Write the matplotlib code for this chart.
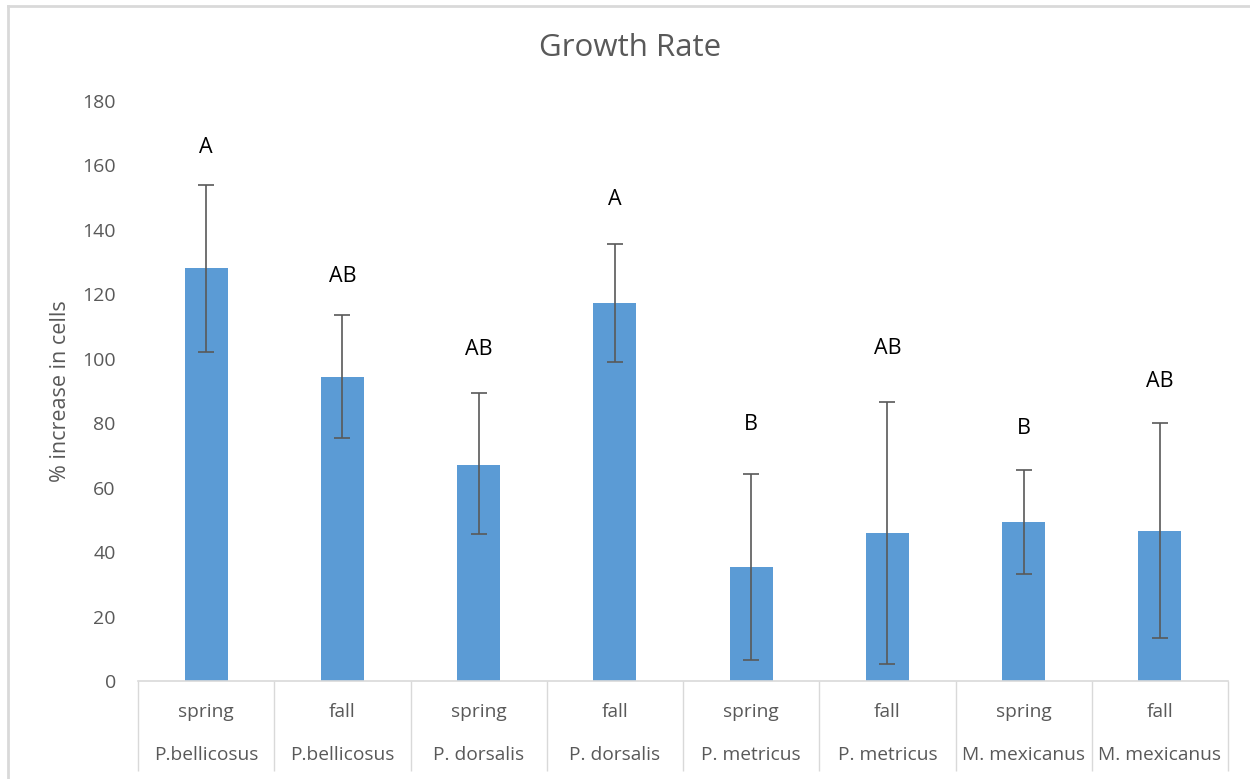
import numpy as np
import matplotlib.pyplot as plt
from matplotlib.lines import Line2D

seasons = ['spring', 'fall', 'spring', 'fall', 'spring', 'fall', 'spring', 'fall']
species = ['P.bellicosus', 'P.bellicosus', 'P. dorsalis', 'P. dorsalis',
           'P. metricus', 'P. metricus', 'M. mexicanus', 'M. mexicanus']
growth = [128.2, 94.3, 67.1, 117.3, 35.5, 45.8, 49.4, 46.5]
err_hi = [153.8, 113.6, 89.3, 135.6, 64.2, 86.6, 65.5, 80.0]
err_lo = [102.2, 75.5, 45.6, 99.1, 6.5, 5.2, 33.3, 13.4]
letters = ['A', 'AB', 'AB', 'A', 'B', 'AB', 'B', 'AB']
letter_y = [165.7, 125.4, 103.0, 149.3, 79.5, 103.3, 78.5, 93.1]

plt.rcParams['font.family'] = ['Open Sans', 'DejaVu Sans']
fig = plt.figure(figsize=(12.5, 7.79), dpi=100)
ax = fig.add_axes([138/1250, 1-681/779, 1090/1250, 580/779])

x = np.arange(len(growth))
g = np.array(growth)
yerr = [g - np.array(err_lo), np.array(err_hi) - g]
ax.bar(x, growth, width=0.316, color='#5b9bd5', zorder=2)
ax.errorbar(x, growth, yerr=yerr, fmt='none', ecolor='#595959', elinewidth=1.2,
            capsize=6, capthick=1.2, zorder=3)

# letters + two-row category labels
for i in range(len(x)):
    ax.text(x[i], letter_y[i], letters[i], ha='center', va='center', fontsize=15.5, color='black')
    ax.annotate(seasons[i], (x[i], 0), xycoords=('data', 'axes fraction'),
                xytext=(0, -22.3), textcoords='offset points', ha='center', va='center',
                fontsize=13.8, color='#595959')
    ax.annotate(species[i], (x[i], 0), xycoords=('data', 'axes fraction'),
                xytext=(0, -53.3), textcoords='offset points', ha='center', va='center',
                fontsize=13.8, color='#595959')

ax.set_xlim(-0.5, len(x) - 0.5)
ax.set_ylim(0, 180)
ax.set_yticks(range(0, 181, 20))
ax.tick_params(axis='y', length=0, labelsize=14, labelcolor='#595959', pad=16)
ax.set_xticks([])
ax.set_xticks(np.arange(-0.5, len(x)), minor=True)
ax.tick_params(axis='x', which='minor', length=64.5, width=1, color='#d9d9d9', direction='out')
ax.set_ylabel('% increase in cells', fontsize=15.5, color='#595959', labelpad=8)

for s in ['left', 'right', 'top']:
    ax.spines[s].set_visible(False)
ax.spines['bottom'].set_color('#d9d9d9')
ax.spines['bottom'].set_linewidth(1.2)

fig.text(630/1250, 1-48/779, 'Growth Rate', ha='center', va='center', fontsize=22.5, color='#595959')

# outer chart border
fig.add_artist(Line2D([8/1250, 8/1250], [0, 1-6/779], color='#d9d9d9', lw=2))
fig.add_artist(Line2D([8/1250, 1], [1-6/779, 1-6/779], color='#d9d9d9', lw=2))

fig.savefig('out.png', dpi=100)
